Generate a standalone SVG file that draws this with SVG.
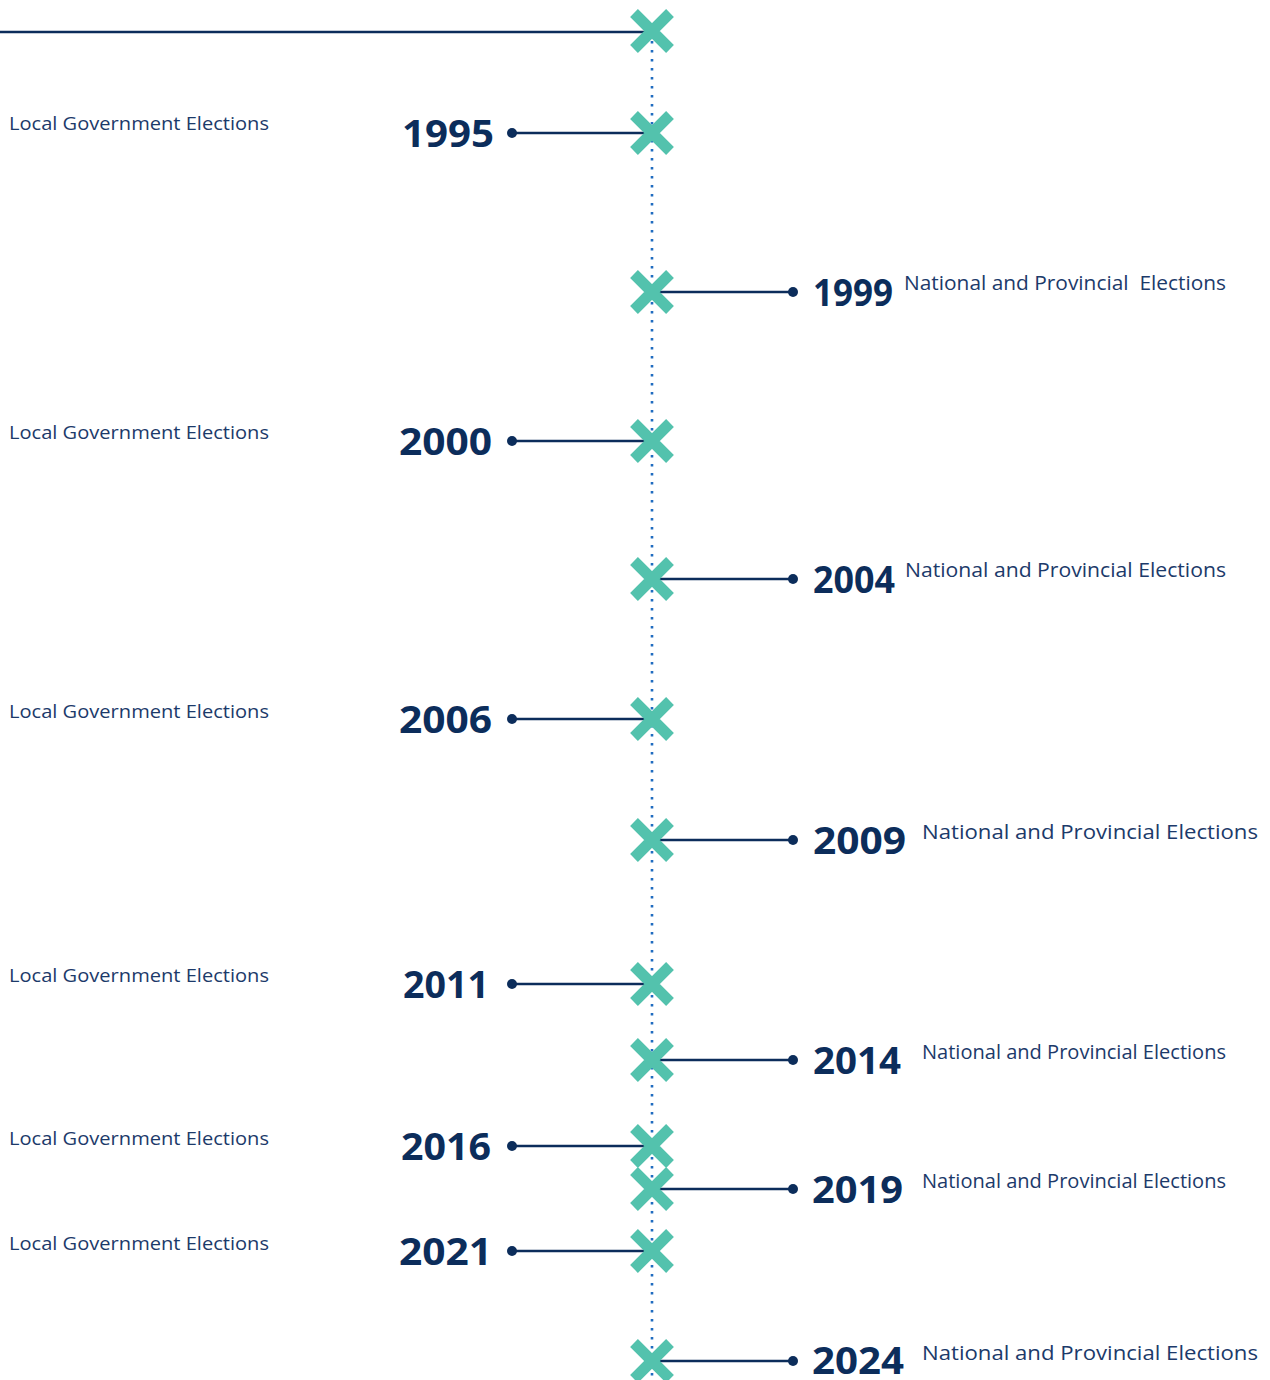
<svg xmlns="http://www.w3.org/2000/svg" width="1270" height="1380" viewBox="0 0 1270 1380">
  <defs>
    <style>
      .spine { stroke: #1f6cc0; stroke-width: 2.6; stroke-dasharray: 2.6 6.4; fill: none; }
      .lead { stroke: #0c2d5b; stroke-width: 2.6; fill: none; }
      .pin { fill: #0c2d5b; }
      .year { font-family: "Open Sans", "Noto Sans", sans-serif; font-weight: 700; font-size: 38px; fill: #0c2d5b; }
      .lbl { font-family: "Open Sans", "Noto Sans", sans-serif; font-size: 19px; fill: #1c3a6a; }
      .lbl-r { font-family: "Open Sans", "Noto Sans", sans-serif; font-size: 20px; fill: #1c3a6a; }
    </style>
    <g id="cross">
      <path d="M-18,-18 L18,18 M18,-18 L-18,18" stroke="#53c2ad" stroke-width="11" stroke-linecap="butt" fill="none"/>
    </g>
  </defs>
  <rect width="1270" height="1380" fill="#ffffff"/>

  <!-- timeline spine and leader lines -->
  <g id="connectors">
    <line class="spine" x1="652" y1="41" x2="652" y2="1380"/>
    <line class="lead" x1="0" y1="32" x2="652" y2="32"/>
    <line class="lead" x1="512" y1="133" x2="652" y2="133"/><circle class="pin" cx="512" cy="133" r="5"/>
    <line class="lead" x1="652" y1="292" x2="793" y2="292"/><circle class="pin" cx="793" cy="292" r="5"/>
    <line class="lead" x1="512" y1="441" x2="652" y2="441"/><circle class="pin" cx="512" cy="441" r="5"/>
    <line class="lead" x1="652" y1="579" x2="793" y2="579"/><circle class="pin" cx="793" cy="579" r="5"/>
    <line class="lead" x1="512" y1="719" x2="652" y2="719"/><circle class="pin" cx="512" cy="719" r="5"/>
    <line class="lead" x1="652" y1="840" x2="793" y2="840"/><circle class="pin" cx="793" cy="840" r="5"/>
    <line class="lead" x1="512" y1="984" x2="652" y2="984"/><circle class="pin" cx="512" cy="984" r="5"/>
    <line class="lead" x1="652" y1="1060" x2="793" y2="1060"/><circle class="pin" cx="793" cy="1060" r="5"/>
    <line class="lead" x1="512" y1="1146" x2="652" y2="1146"/><circle class="pin" cx="512" cy="1146" r="5"/>
    <line class="lead" x1="652" y1="1189" x2="793" y2="1189"/><circle class="pin" cx="793" cy="1189" r="5"/>
    <line class="lead" x1="512" y1="1251" x2="652" y2="1251"/><circle class="pin" cx="512" cy="1251" r="5"/>
    <line class="lead" x1="652" y1="1361" x2="793" y2="1361"/><circle class="pin" cx="793" cy="1361" r="5"/>
  </g>

  <!-- start marker -->
  <g id="start"><use href="#cross" x="652" y="31"/></g>

  <g id="e1995">
    <use href="#cross" x="652" y="133"/>
    <text class="year" x="494" y="147" text-anchor="end" textLength="92" lengthAdjust="spacingAndGlyphs">1995</text>
    <text class="lbl" x="9" y="130" textLength="260" lengthAdjust="spacingAndGlyphs">Local Government Elections</text>
  </g>
  <g id="e1999">
    <use href="#cross" x="652" y="292"/>
    <text class="year" x="813" y="306" textLength="80" lengthAdjust="spacingAndGlyphs">1999</text>
    <text class="lbl-r" x="904" y="290" textLength="322" lengthAdjust="spacingAndGlyphs">National and Provincial&#160; Elections</text>
  </g>
  <g id="e2000">
    <use href="#cross" x="652" y="441"/>
    <text class="year" x="492" y="455" text-anchor="end" textLength="93" lengthAdjust="spacingAndGlyphs">2000</text>
    <text class="lbl" x="9" y="439" textLength="260" lengthAdjust="spacingAndGlyphs">Local Government Elections</text>
  </g>
  <g id="e2004">
    <use href="#cross" x="652" y="579"/>
    <text class="year" x="813" y="593" textLength="82" lengthAdjust="spacingAndGlyphs">2004</text>
    <text class="lbl-r" x="905" y="577" textLength="321" lengthAdjust="spacingAndGlyphs">National and Provincial Elections</text>
  </g>
  <g id="e2006">
    <use href="#cross" x="652" y="719"/>
    <text class="year" x="492" y="733" text-anchor="end" textLength="93" lengthAdjust="spacingAndGlyphs">2006</text>
    <text class="lbl" x="9" y="718" textLength="260" lengthAdjust="spacingAndGlyphs">Local Government Elections</text>
  </g>
  <g id="e2009">
    <use href="#cross" x="652" y="840"/>
    <text class="year" x="813" y="854" textLength="93" lengthAdjust="spacingAndGlyphs">2009</text>
    <text class="lbl-r" x="922" y="839" textLength="336" lengthAdjust="spacingAndGlyphs">National and Provincial Elections</text>
  </g>
  <g id="e2011">
    <use href="#cross" x="652" y="984"/>
    <text class="year" x="489" y="998" text-anchor="end" textLength="86" lengthAdjust="spacingAndGlyphs">2011</text>
    <text class="lbl" x="9" y="982" textLength="260" lengthAdjust="spacingAndGlyphs">Local Government Elections</text>
  </g>
  <g id="e2014">
    <use href="#cross" x="652" y="1060"/>
    <text class="year" x="813" y="1074" textLength="88" lengthAdjust="spacingAndGlyphs">2014</text>
    <text class="lbl-r" x="922" y="1059" textLength="304" lengthAdjust="spacingAndGlyphs">National and Provincial Elections</text>
  </g>
  <g id="e2016">
    <use href="#cross" x="652" y="1146"/>
    <text class="year" x="491" y="1160" text-anchor="end" textLength="90" lengthAdjust="spacingAndGlyphs">2016</text>
    <text class="lbl" x="9" y="1145" textLength="260" lengthAdjust="spacingAndGlyphs">Local Government Elections</text>
  </g>
  <g id="e2019">
    <use href="#cross" x="652" y="1189"/>
    <text class="year" x="812" y="1203" textLength="91" lengthAdjust="spacingAndGlyphs">2019</text>
    <text class="lbl-r" x="922" y="1188" textLength="304" lengthAdjust="spacingAndGlyphs">National and Provincial Elections</text>
  </g>
  <g id="e2021">
    <use href="#cross" x="652" y="1251"/>
    <text class="year" x="492" y="1265" text-anchor="end" textLength="93" lengthAdjust="spacingAndGlyphs">2021</text>
    <text class="lbl" x="9" y="1250" textLength="260" lengthAdjust="spacingAndGlyphs">Local Government Elections</text>
  </g>
  <g id="e2024">
    <use href="#cross" x="652" y="1361"/>
    <text class="year" x="812" y="1374" textLength="92" lengthAdjust="spacingAndGlyphs">2024</text>
    <text class="lbl-r" x="922" y="1360" textLength="336" lengthAdjust="spacingAndGlyphs">National and Provincial Elections</text>
  </g>
</svg>
